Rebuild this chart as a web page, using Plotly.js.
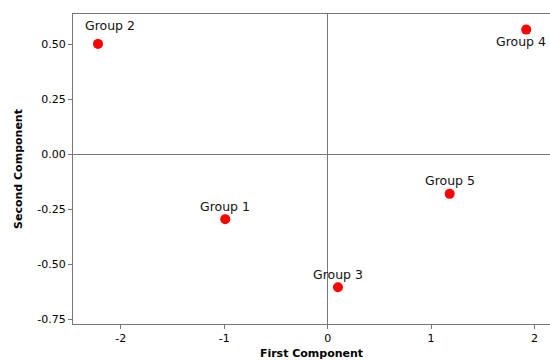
<!DOCTYPE html>
<html>
<head>
<meta charset="utf-8">
<script src="https://cdn.plot.ly/plotly-3.0.1.min.js"></script>
<style>html,body{margin:0;padding:0;background:#fff;overflow:hidden}#chart{width:550px;height:360px}</style>
</head>
<body>
<div id="chart"></div>
<script>
var groups = ["Group 1", "Group 2", "Group 3", "Group 4", "Group 5"];
var firstComponent = [-0.99, -2.22, 0.10, 1.92, 1.18];
var secondComponent = [-0.294, 0.503, -0.604, 0.568, -0.179];

// label offsets (pixels) relative to each point: style only
var labelShift = [
  {dx: 0, dy: 13},
  {dx: 12, dy: 18},
  {dx: 0, dy: 13},
  {dx: -5, dy: -12},
  {dx: 0, dy: 13}
];

var trace = {
  x: firstComponent,
  y: secondComponent,
  mode: 'markers',
  type: 'scatter',
  marker: {color: '#ff0000', size: 10},
  hoverinfo: 'none'
};

var annotations = groups.map(function (g, i) {
  return {
    x: firstComponent[i], y: secondComponent[i], xref: 'x', yref: 'y',
    text: g, showarrow: false,
    xshift: labelShift[i].dx, yshift: labelShift[i].dy,
    font: {family: 'DejaVu Sans', size: 12.5, color: '#111'}
  };
});

var layout = {
  width: 550, height: 360,
  margin: {l: 73, r: 0, t: 14, b: 36, pad: 0},
  paper_bgcolor: '#fff', plot_bgcolor: '#fff',
  showlegend: false,
  font: {family: 'DejaVu Sans', size: 11, color: '#000'},
  xaxis: {
    range: [-2.462, 2.15],
    tickmode: 'array', tickvals: [-2, -1, 0, 1, 2], ticktext: ['-2', '-1', '0', '1', '2'],
    ticks: 'outside', ticklen: 4, tickcolor: '#777', tickwidth: 1,
    showline: true, linecolor: '#777', linewidth: 1, mirror: true,
    showgrid: false, zeroline: true, zerolinecolor: '#777', zerolinewidth: 1,
    tickfont: {family: 'DejaVu Sans', size: 11, color: '#000'},
    title: {text: 'First Component', font: {family: 'DejaVu Sans', size: 11, color: '#000', weight: 'bold'}, standoff: 6}
  },
  yaxis: {
    range: [-0.771, 0.639],
    tickmode: 'array', tickvals: [-0.75, -0.5, -0.25, 0, 0.25, 0.5],
    ticktext: ['-0.75', '-0.50', '-0.25', '0.00', '0.25', '0.50'],
    ticks: 'outside', ticklen: 4, tickcolor: '#777', tickwidth: 1,
    showline: true, linecolor: '#777', linewidth: 1,
    showgrid: false, zeroline: true, zerolinecolor: '#777', zerolinewidth: 1,
    tickfont: {family: 'DejaVu Sans', size: 11, color: '#000'},
    title: {text: 'Second Component', font: {family: 'DejaVu Sans', size: 11, color: '#000', weight: 'bold'}, standoff: 12}
  },
  annotations: annotations
};

Plotly.newPlot('chart', [trace], layout, {staticPlot: true, displayModeBar: false});
</script>
</body>
</html>
